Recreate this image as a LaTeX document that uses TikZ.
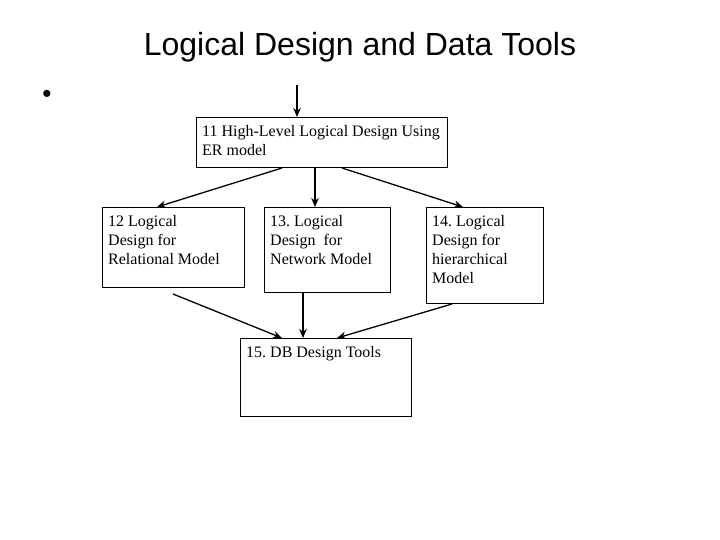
\documentclass[tikz,border=0pt]{standalone}
\usepackage{fontspec}
\setmainfont{Liberation Serif}
\newfontfamily\titlefont{Liberation Sans}
\usetikzlibrary{arrows.meta,calc}
\frenchspacing
\begin{document}
\begin{tikzpicture}[x=1pt,y=-1pt,
  box/.style={draw=black,line width=1pt,inner sep=0pt,anchor=north west},
  txt/.style={inner sep=0pt,anchor=north west,align=left,font=\fontsize{16}{19}\selectfont},
  arr/.style={line width=1.3pt,-{Stealth[length=9pt,width=7.5pt]}}]
\useasboundingbox[fill=white] (0,0) rectangle (720,540);
\node[font=\titlefont\fontsize{32}{36}\selectfont,inner sep=0pt] (title) at (360,47) {Logical Design and Data Tools};
\node[font=\titlefont\fontsize{26}{30}\selectfont,inner sep=0pt] (bullet) at (47,96) {•};
% boxes
\node[box,minimum width=251pt,minimum height=50pt] (b11) at (196,117) {};
\node[box,minimum width=142pt,minimum height=80pt] (b12) at (102,207) {};
\node[box,minimum width=126pt,minimum height=85pt] (b13) at (264,207) {};
\node[box,minimum width=117pt,minimum height=96pt] (b14) at (426,207) {};
\node[box,minimum width=171pt,minimum height=78pt] (b15) at (240,338) {};
% texts
\node[txt] (t11) at ($(b11.north west)+(6,8)$) {11 High-Level Logical Design Using\\ER model};
\node[txt] (t12) at ($(b12.north west)+(6,8)$) {12 Logical\\Design for\\Relational Model};
\node[txt] (t13) at ($(b13.north west)+(6,8)$) {13. Logical\\Design\ \ for\\Network Model};
\node[txt] (t14) at ($(b14.north west)+(6,8)$) {14. Logical\\Design for\\hierarchical\\Model};
\node[txt] (t15) at ($(b15.north west)+(6,8)$) {15. DB Design Tools};
% connectors
\coordinate (top) at (297,85);
\draw[arr] (top) -- (b11.north -| top);
\draw[arr] ($(b11.south west)+(86,0)$) -- ($(b12.north west)+(55,0)$);
\draw[arr] ($(b11.south west)+(119,0)$) -- ($(b13.north west)+(51,0)$);
\draw[arr] ($(b11.south west)+(146,0)$) -- ($(b14.north west)+(37,0)$);
\draw[arr] ($(b12.south west)+(71,6)$) -- ($(b15.north west)+(42,0)$);
\draw[arr] ($(b13.south west)+(39,0)$) -- ($(b15.north west)+(63,0)$);
\draw[arr] ($(b14.south west)+(26,0)$) -- ($(b15.north west)+(97,0)$);
\end{tikzpicture}
\end{document}
